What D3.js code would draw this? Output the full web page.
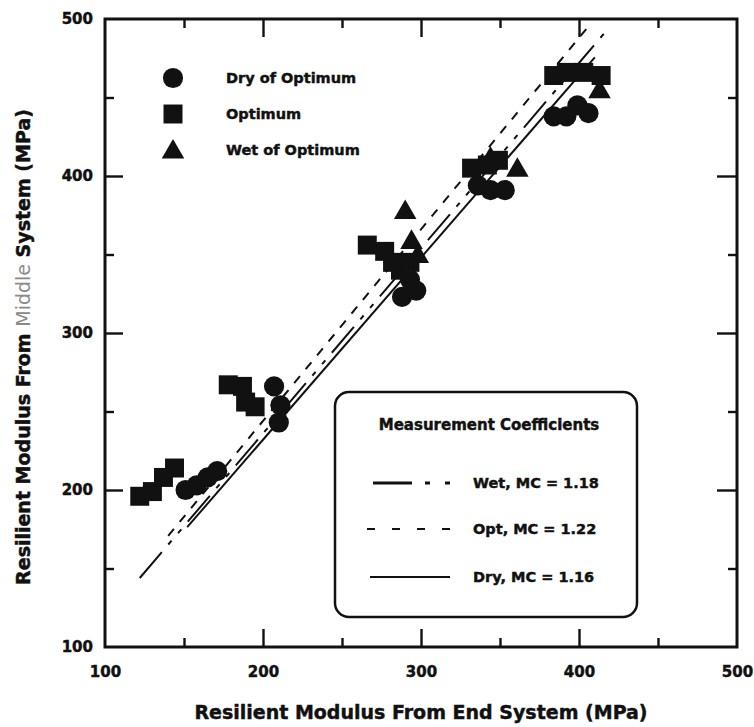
<!DOCTYPE html>
<html>
<head>
<meta charset="utf-8">
<script src="https://cdn.jsdelivr.net/npm/d3@7"></script>
<style>
  body { margin: 0; background: #fff; }
  svg { display: block; }
  text { font-family: "DejaVu Sans", "Liberation Sans", sans-serif; font-weight: bold; fill: #111; stroke: #111; stroke-width: 0.45px; }
</style>
</head>
<body>
<svg id="chart" width="754" height="727"></svg>
<script>
// Resilient modulus (MPa): end-system vs middle-system readings
const dryEnd = [151, 158, 165, 171, 207, 211, 210, 288, 293, 297, 336, 344, 353, 384, 392, 399, 406];
const dryMid = [200, 203, 208, 212, 266, 254, 243, 323, 334, 327, 394, 391, 391, 438, 438, 445, 440];

const optEnd = [122, 130, 137, 144, 178, 187, 189, 195, 266, 277, 282, 287, 293, 332, 342, 349, 384, 392, 403, 414];
const optMid = [196, 199, 208, 214, 267, 266, 256, 253, 356, 352, 345, 340, 345, 405, 407, 410, 464, 466, 466, 464];

const wetEnd = [290, 294, 298, 344, 361, 413];
const wetMid = [378, 359, 350, 412, 405, 455];

// Measurement coefficients (slope through the origin) and the span of each fit line
const fitNames = ["Wet", "Opt", "Dry"];
const fitMC = [1.18, 1.22, 1.16];
const fitFrom = [122, 140, 152];
const fitTo = [416, 406, 410];

const axisLabelTicks = [100, 200, 300, 400, 500];
const majorTicks = [200, 300, 400];
const minorTicks = [150, 250, 350, 450];

const seriesLabels = ["Dry of Optimum", "Optimum", "Wet of Optimum"];
const xTitle = "Resilient Modulus From End System (MPa)";
const legendTitle = "Measurement Coefficients";

const svg = d3.select("#chart");
const ink = "#111";

const x = d3.scaleLinear().domain([100, 500]).range([105, 737]);
const y = d3.scaleLinear().domain([100, 500]).range([647, 19]);

// ---- tick marks on all four sides, pointing inward ----
function tickSet(axisFn, vals, len, transform) {
  const g = svg.append("g").attr("transform", transform)
    .call(axisFn.tickValues(vals).tickSize(len).tickFormat(""));
  g.select(".domain").remove();
  g.selectAll(".tick line").attr("stroke", ink).attr("stroke-width", 2.4);
  return g;
}
tickSet(d3.axisBottom(x), majorTicks, -18, `translate(0,${y(100)})`);
tickSet(d3.axisBottom(x), minorTicks, -9, `translate(0,${y(100)})`);
tickSet(d3.axisTop(x), majorTicks, -18, `translate(0,${y(500)})`);
tickSet(d3.axisTop(x), minorTicks, -9, `translate(0,${y(500)})`);
tickSet(d3.axisLeft(y), majorTicks, -18, `translate(${x(100)},0)`);
tickSet(d3.axisLeft(y), minorTicks, -9, `translate(${x(100)},0)`);
tickSet(d3.axisRight(y), majorTicks, -20, `translate(${x(500)},0)`);
tickSet(d3.axisRight(y), minorTicks, -9, `translate(${x(500)},0)`);

// ---- tick labels ----
function styleLabels(g) {
  g.select(".domain").remove();
  g.selectAll("text").attr("font-size", 15).attr("fill", ink)
    .attr("font-family", "DejaVu Sans, sans-serif").attr("font-weight", "bold");
}
const xl = svg.append("g").attr("transform", `translate(0,${y(100)})`)
  .call(d3.axisBottom(x).tickValues(axisLabelTicks).tickSize(0).tickPadding(19));
styleLabels(xl);

const yl = svg.append("g").attr("transform", `translate(${x(100)},0)`)
  .call(d3.axisLeft(y).tickValues(axisLabelTicks).tickSize(0).tickPadding(12));
styleLabels(yl);

// ---- frame ----
svg.append("rect")
  .attr("x", x(100)).attr("y", y(500))
  .attr("width", x(500) - x(100)).attr("height", y(100) - y(500))
  .attr("fill", "none").attr("stroke", ink).attr("stroke-width", 3);

// ---- fit lines ----
const plotDash = ["34,10,5,10,5,10", "9,9", null];
fitNames.forEach((n, i) => {
  svg.append("line")
    .attr("x1", x(fitFrom[i])).attr("y1", y(fitMC[i] * fitFrom[i]))
    .attr("x2", x(fitTo[i])).attr("y2", y(fitMC[i] * fitTo[i]))
    .attr("stroke", ink).attr("stroke-width", 2)
    .attr("stroke-dasharray", plotDash[i]);
});

// ---- data markers ----
const symCircle = d3.symbol().type(d3.symbolCircle).size(320);
const symSquare = d3.symbol().type(d3.symbolSquare).size(360);
const symTri = d3.symbol().type(d3.symbolTriangle).size(220);

svg.append("g").selectAll("path").data(d3.range(optEnd.length)).join("path")
  .attr("d", symSquare).attr("fill", ink)
  .attr("transform", i => `translate(${x(optEnd[i])},${y(optMid[i])})`);
svg.append("g").selectAll("path").data(d3.range(dryEnd.length)).join("path")
  .attr("d", symCircle).attr("fill", ink)
  .attr("transform", i => `translate(${x(dryEnd[i])},${y(dryMid[i])})`);
svg.append("g").selectAll("path").data(d3.range(wetEnd.length)).join("path")
  .attr("d", symTri).attr("fill", ink)
  .attr("transform", i => `translate(${x(wetEnd[i])},${y(wetMid[i]) + 2})`);

// ---- marker legend ----
const legSyms = [symCircle, symSquare, symTri];
const legY = [78, 114, 150];
seriesLabels.forEach((s, i) => {
  svg.append("path").attr("d", legSyms[i]).attr("fill", ink)
    .attr("transform", `translate(173,${legY[i] + (i === 2 ? 2 : 0)})`);
  svg.append("text").attr("x", 226).attr("y", legY[i]).attr("dy", "0.35em")
    .attr("font-size", 14.5).text(s);
});

// ---- coefficient legend box ----
svg.append("rect").attr("x", 335).attr("y", 392).attr("width", 302).attr("height", 225)
  .attr("rx", 14).attr("fill", "#fff").attr("stroke", ink).attr("stroke-width", 2.5);
svg.append("text").attr("x", 489).attr("y", 425).attr("dy", "0.35em")
  .attr("text-anchor", "middle").attr("font-size", 15).text(legendTitle);

const legDash = ["39,13,5,15,5,200", "8,17", null];
const legRowY = [483, 529, 577];
const legX1 = [373, 367, 370];
const legX2 = [452, 450, 450];
fitNames.forEach((n, i) => {
  svg.append("line").attr("x1", legX1[i]).attr("x2", legX2[i])
    .attr("y1", legRowY[i]).attr("y2", legRowY[i])
    .attr("stroke", ink).attr("stroke-width", i === 0 ? 3 : 2.2)
    .attr("stroke-dasharray", legDash[i]);
  svg.append("text").attr("x", 473).attr("y", legRowY[i]).attr("dy", "0.35em")
    .attr("font-size", 14.5).text(`${n}, MC = ${fitMC[i].toFixed(2)}`);
});

// ---- axis titles ----
svg.append("text").attr("x", 421).attr("y", 719)
  .attr("text-anchor", "middle").attr("font-size", 19).text(xTitle);

const yt = svg.append("text")
  .attr("transform", "translate(30,347) rotate(-90)")
  .attr("text-anchor", "middle").attr("font-size", 19);
yt.append("tspan").text("Resilient Modulus From ");
yt.append("tspan").attr("fill", "#8a8a8a").attr("stroke", "none").attr("font-weight", "normal").text("Middle");
yt.append("tspan").text(" System (MPa)");
</script>
</body>
</html>
